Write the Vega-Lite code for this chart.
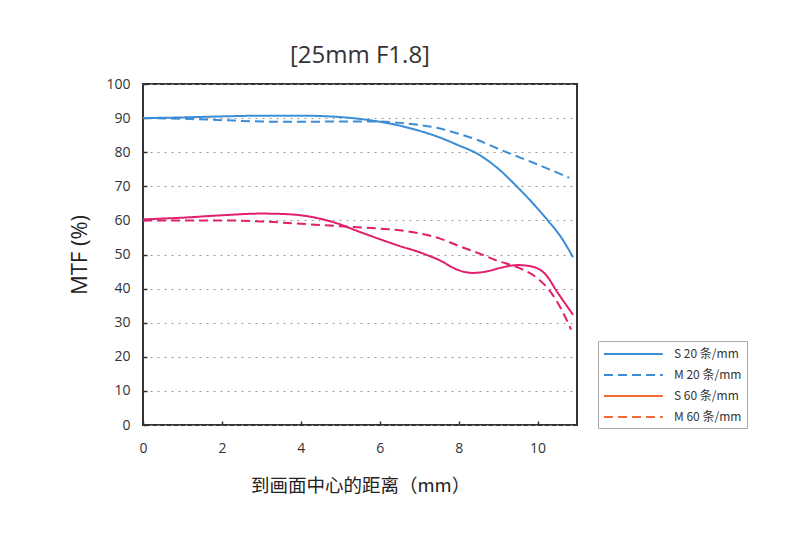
{
  "$schema": "https://vega.github.io/schema/vega-lite/v6.json",
  "autosize": {"type": "none"},
  "padding": {"left": 143, "top": 84, "right": 223, "bottom": 109},
  "width": 434,
  "height": 341,
  "background": "white",
  "title": {"text": "[25mm F1.8]", "fontSize": 24, "fontWeight": "normal", "font": "Open Sans", "color": "#333", "anchor": "middle", "offset": 9},
  "config": {
    "view": {"stroke": "#333", "strokeWidth": 2},
    "font": "Open Sans, Noto Sans CJK SC",
    "axis": {"labelFont": "Open Sans", "labelFontSize": 14, "labelColor": "#333", "domain": false, "tickColor": "#333", "tickSize": -4, "tickWidth": 1.5, "titleColor": "#222", "titleFontWeight": "normal", "labelFlush": false}
  },
  "data": {"values": [
    {"curve": "S 20 条/mm", "x": 0, "y": 90.0},
    {"curve": "S 20 条/mm", "x": 1, "y": 90.2},
    {"curve": "S 20 条/mm", "x": 2, "y": 90.5},
    {"curve": "S 20 条/mm", "x": 3, "y": 90.7},
    {"curve": "S 20 条/mm", "x": 4, "y": 90.7},
    {"curve": "S 20 条/mm", "x": 5, "y": 90.3},
    {"curve": "S 20 条/mm", "x": 5.8, "y": 89.3},
    {"curve": "S 20 条/mm", "x": 6.5, "y": 87.8},
    {"curve": "S 20 条/mm", "x": 7, "y": 86.3},
    {"curve": "S 20 条/mm", "x": 7.5, "y": 84.4},
    {"curve": "S 20 条/mm", "x": 8, "y": 82.0},
    {"curve": "S 20 条/mm", "x": 8.45, "y": 79.7},
    {"curve": "S 20 条/mm", "x": 9, "y": 75.2},
    {"curve": "S 20 条/mm", "x": 9.47, "y": 70.0},
    {"curve": "S 20 条/mm", "x": 10, "y": 63.5},
    {"curve": "S 20 条/mm", "x": 10.26, "y": 60.0},
    {"curve": "S 20 条/mm", "x": 10.6, "y": 55.0},
    {"curve": "S 20 条/mm", "x": 10.9, "y": 49.2},
    {"curve": "M 20 条/mm", "x": 0, "y": 90.0},
    {"curve": "M 20 条/mm", "x": 1, "y": 89.8},
    {"curve": "M 20 条/mm", "x": 2, "y": 89.4},
    {"curve": "M 20 条/mm", "x": 3, "y": 89.0},
    {"curve": "M 20 条/mm", "x": 4, "y": 88.9},
    {"curve": "M 20 条/mm", "x": 5, "y": 89.0},
    {"curve": "M 20 条/mm", "x": 6, "y": 89.0},
    {"curve": "M 20 条/mm", "x": 6.5, "y": 88.6},
    {"curve": "M 20 条/mm", "x": 7, "y": 88.0},
    {"curve": "M 20 条/mm", "x": 7.5, "y": 87.0},
    {"curve": "M 20 条/mm", "x": 8, "y": 85.4},
    {"curve": "M 20 条/mm", "x": 8.5, "y": 83.5},
    {"curve": "M 20 条/mm", "x": 9, "y": 81.0},
    {"curve": "M 20 条/mm", "x": 9.5, "y": 78.7},
    {"curve": "M 20 条/mm", "x": 10, "y": 76.4},
    {"curve": "M 20 条/mm", "x": 10.5, "y": 74.0},
    {"curve": "M 20 条/mm", "x": 10.8, "y": 72.5},
    {"curve": "S 60 条/mm", "x": 0, "y": 60.3},
    {"curve": "S 60 条/mm", "x": 1, "y": 60.8},
    {"curve": "S 60 条/mm", "x": 2, "y": 61.5},
    {"curve": "S 60 条/mm", "x": 3, "y": 62.0},
    {"curve": "S 60 条/mm", "x": 3.5, "y": 61.9},
    {"curve": "S 60 条/mm", "x": 4, "y": 61.5},
    {"curve": "S 60 条/mm", "x": 4.9, "y": 59.2},
    {"curve": "S 60 条/mm", "x": 5.5, "y": 56.6},
    {"curve": "S 60 条/mm", "x": 6, "y": 54.5},
    {"curve": "S 60 条/mm", "x": 6.5, "y": 52.5},
    {"curve": "S 60 条/mm", "x": 7, "y": 50.7},
    {"curve": "S 60 条/mm", "x": 7.5, "y": 48.4},
    {"curve": "S 60 条/mm", "x": 8, "y": 45.4},
    {"curve": "S 60 条/mm", "x": 8.35, "y": 44.6},
    {"curve": "S 60 条/mm", "x": 8.7, "y": 45.0},
    {"curve": "S 60 条/mm", "x": 9.1, "y": 46.2},
    {"curve": "S 60 条/mm", "x": 9.5, "y": 46.9},
    {"curve": "S 60 条/mm", "x": 9.85, "y": 46.5},
    {"curve": "S 60 条/mm", "x": 10.2, "y": 44.2},
    {"curve": "S 60 条/mm", "x": 10.5, "y": 39.0},
    {"curve": "S 60 条/mm", "x": 10.9, "y": 32.3},
    {"curve": "M 60 条/mm", "x": 0, "y": 60.0},
    {"curve": "M 60 条/mm", "x": 1, "y": 60.0},
    {"curve": "M 60 条/mm", "x": 2, "y": 60.0},
    {"curve": "M 60 条/mm", "x": 3, "y": 59.7},
    {"curve": "M 60 条/mm", "x": 4, "y": 59.0},
    {"curve": "M 60 条/mm", "x": 5, "y": 58.3},
    {"curve": "M 60 条/mm", "x": 6, "y": 57.6},
    {"curve": "M 60 条/mm", "x": 6.5, "y": 57.1},
    {"curve": "M 60 条/mm", "x": 7, "y": 56.2},
    {"curve": "M 60 条/mm", "x": 7.5, "y": 54.8},
    {"curve": "M 60 条/mm", "x": 8, "y": 52.5},
    {"curve": "M 60 条/mm", "x": 8.5, "y": 50.4},
    {"curve": "M 60 条/mm", "x": 9, "y": 48.1},
    {"curve": "M 60 条/mm", "x": 9.5, "y": 46.2},
    {"curve": "M 60 条/mm", "x": 10, "y": 43.0},
    {"curve": "M 60 条/mm", "x": 10.3, "y": 39.5},
    {"curve": "M 60 条/mm", "x": 10.6, "y": 34.0},
    {"curve": "M 60 条/mm", "x": 10.85, "y": 28.0}
  ]},
  "encoding": {
    "x": {"field": "x", "type": "quantitative",
      "scale": {"domain": [0, 11], "nice": false, "zero": false},
      "axis": {"values": [0, 2, 4, 6, 8, 10], "grid": false, "labelPadding": 20, "title": "到画面中心的距离（mm）", "titleFont": "Noto Sans CJK SC", "titleFontSize": 18.5, "titlePadding": 21}},
    "y": {"field": "y", "type": "quantitative",
      "scale": {"domain": [0, 100], "nice": false},
      "axis": {"values": [0, 10, 20, 30, 40, 50, 60, 70, 80, 90, 100], "grid": true, "gridColor": "#999", "gridDash": [2, 5], "gridWidth": 1.2, "labelPadding": 17, "title": "MTF (%)", "titleFont": "Open Sans", "titleFontSize": 22, "titlePadding": 14}},
    "strokeDash": {"field": "curve", "type": "nominal",
      "scale": {"domain": ["S 20 条/mm", "M 20 条/mm", "S 60 条/mm", "M 60 条/mm"], "range": [[1, 0], [9, 5], [1, 0], [9, 5]]},
      "legend": {"title": null, "orient": "none", "legendX": 455, "legendY": 257, "symbolType": "M-1,0H7.4", "symbolSize": 196, "symbolStrokeWidth": 2, "labelFont": "Noto Sans CJK SC", "labelFontSize": 12, "labelColor": "#333", "strokeColor": "#aaa", "padding": 5, "fillColor": "white", "rowPadding": 7, "labelOffset": 55}}
  },
  "layer": [
    {
      "mark": {"type": "line", "interpolate": "monotone", "strokeWidth": 2},
      "encoding": {
        "color": {"condition": {"test": "datum.curve == 'S 60 条/mm' || datum.curve == 'M 60 条/mm'", "value": "#e11f6c"}, "value": "#3b8dd5"}
      }
    },
    {
      "transform": [{"filter": "datum.x < 0"}],
      "mark": {"type": "line", "strokeWidth": 2},
      "encoding": {
        "stroke": {"field": "curve", "type": "nominal",
          "scale": {"domain": ["S 20 条/mm", "M 20 条/mm", "S 60 条/mm", "M 60 条/mm"], "range": ["#3b8dd5", "#3b8dd5", "#f26a35", "#f26a35"]},
          "legend": {"title": null, "orient": "none", "legendX": 455, "legendY": 257, "symbolType": "M-1,0H7.4", "symbolSize": 196, "symbolStrokeWidth": 2, "labelFont": "Noto Sans CJK SC", "labelFontSize": 12, "labelColor": "#333", "strokeColor": "#aaa", "padding": 5, "fillColor": "white", "rowPadding": 7, "labelOffset": 55}}
      }
    }
  ]
}
